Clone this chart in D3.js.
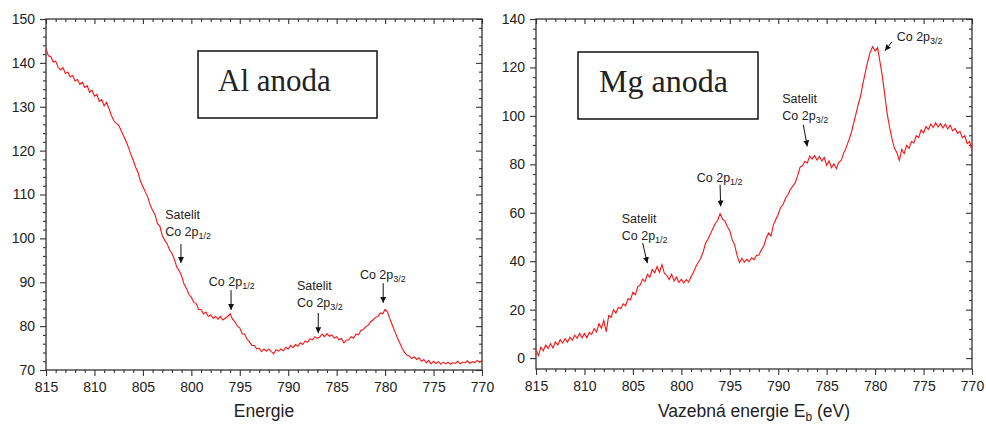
<!DOCTYPE html>
<html>
<head>
<meta charset="utf-8">
<script src="https://cdn.jsdelivr.net/npm/d3@7"></script>
<style>
  body { margin: 0; background: #fff; }
  svg { display: block; }
  text { font-family: Arial, "Liberation Sans", sans-serif; fill: #222; }
</style>
</head>
<body>
<svg id="chart" width="986" height="425"></svg>
<script>
// spectra sampled every 0.25 eV, from 815 eV down to 770 eV
const startEnergy = 815
const energyStep = 0.25

const alCounts = [
  143.2, 141.6, 141.4, 140.2, 140.4, 139, 138.4, 138.9, 137.6, 137.9, 136.8, 137.1,
  135.9, 136.2, 135.1, 135.6, 134.4, 134.8, 133.3, 133.8, 132.4, 132.8, 131.2, 131.6,
  130.2, 131, 129.6, 128, 126.8, 126.2, 125.8, 124.6, 123.4, 122.2, 120.8, 119.2,
  117.8, 116.2, 115, 113, 111.8, 110.6, 109.4, 107.6, 106.4, 105.4, 103.4, 102.8,
  100.6, 99.6, 98.8, 97.4, 96.6, 95.2, 93.4, 92.6, 91.4, 89.6, 88.6, 87.2,
  86.6, 85.4, 85.2, 83.8, 83.8, 82.8, 83.2, 82.2, 82.6, 81.8, 82.2, 81.6,
  82.2, 81.4, 81.8, 82.2, 82.8, 81.6, 81, 80, 79.6, 78.2, 78.2, 77,
  76.4, 75.6, 75.6, 74.8, 75, 74.2, 74.8, 74.3, 74.8, 74.2, 73.7, 74.6,
  74.3, 74.8, 74.4, 75.2, 74.8, 75.6, 75.1, 75.8, 75.4, 76.2, 75.8, 76.6,
  76.3, 77.1, 76.9, 77.6, 77.2, 77.5, 78.2, 77.6, 78.3, 77.7, 78, 77.3,
  77.6, 76.9, 77.2, 76.2, 76.8, 76.9, 77.6, 77.3, 78.2, 78, 79, 79.2,
  79.9, 80.2, 81, 81.4, 82, 82.2, 83, 82.8, 83.8, 83.2, 81.6, 80.2,
  78.8, 77.4, 76.2, 75, 74, 73.4, 73.2, 72.6, 73, 72.4, 72.8, 72,
  72.4, 71.6, 72.2, 71.4, 72, 71.5, 71.9, 71.3, 71.8, 71.4, 71.8, 71.3,
  71.7, 71.5, 72, 71.4, 71.8, 71.6, 72.1, 71.5, 71.9, 71.7, 72.2, 71.8,
  72.2
]

const mgCounts = [
  3.4, 1, 4.5, 3, 5.4, 4, 6, 4.2, 6.6, 5.4, 7.6, 6.2,
  8, 6.6, 8.6, 7.4, 9.4, 8.2, 10.2, 8.4, 10.2, 8.4, 10.6, 9.8,
  12.2, 10.8, 14.2, 12.4, 15.6, 10.8, 17.6, 16.8, 20, 18.6, 21, 20.4,
  22.4, 21.6, 24.6, 24, 27.2, 26.2, 29.4, 30.2, 32.6, 31.6, 34.6, 33.4,
  36.6, 35.2, 37.8, 35.4, 38.6, 35, 34.2, 32.4, 34.6, 31.8, 33.4, 31.2,
  32.6, 31, 32.4, 31.4, 33.6, 35.4, 37.8, 39.6, 41.2, 43.8, 47.4, 49.2,
  51.2, 53.4, 55.6, 56.8, 59.6, 57.4, 56.6, 54.2, 52.6, 48.8, 46.8, 42.4,
  39.4, 41.2, 39.6, 40.8, 39.8, 41.4, 40.6, 42.4, 42.6, 44.6, 46.2, 49.4,
  51.6, 50.4, 55, 57.2, 59.4, 62.2, 63.4, 66, 67.4, 69.6, 71, 72.4,
  75.2, 78.8, 79.4, 81.2, 80.6, 83.4, 82.2, 83.6, 81.8, 83.2, 81.4, 82.8,
  79.6, 81.4, 78.6, 80.2, 78.2, 80.8, 81.6, 84.6, 86.8, 89.6, 92.4, 96.4,
  100.4, 104.6, 108.2, 113.4, 118.2, 122.6, 126.4, 128.6, 126.8, 128.2, 122.4, 116.2,
  108.6, 100.8, 95.2, 90.4, 86.6, 84.8, 81.6, 86.2, 84.4, 87.8, 86.6, 89.4,
  88.8, 91.8, 91, 94.2, 93, 95.6, 94.4, 96.6, 95.2, 97.2, 95.4, 96.8,
  95, 96.6, 94.6, 96.2, 93.8, 94.8, 92.8, 93.6, 91, 91.8, 88.6, 89.4,
  85.6
]

const energyTicks = [815, 810, 805, 800, 795, 790, 785, 780, 775, 770]
const alTicks = [70, 80, 90, 100, 110, 120, 130, 140, 150]
const mgTicks = [0, 20, 40, 60, 80, 100, 120, 140]

// labels: text lines, subscript on last line, arrow tail/tip and text anchor in data units
const alNotes = [
  {lines: ['Satelit', 'Co 2p'], sub: '1/2', text: [802.7, 100.5], tail: [801.07, 98.7], tip: [801.07, 94.4]},
  {lines: ['Co 2p'], sub: '1/2', text: [798.2, 89.1], tail: [795.9, 88.2], tip: [795.9, 83.7]},
  {lines: ['Satelit', 'Co 2p'], sub: '3/2', text: [789.1, 84.4], tail: [786.9, 83], tip: [786.9, 78.4]},
  {lines: ['Co 2p'], sub: '3/2', text: [782.6, 90.7], tail: [780.2, 89.8], tip: [780.2, 85.3]}
]
const mgNotes = [
  {lines: ['Co 2p'], sub: '3/2', text: [777.77, 131.0], tail: [778.26, 130.6], tip: [778.98, 126.9]},
  {lines: ['Satelit', 'Co 2p'], sub: '3/2', text: [789.58, 98.4], tail: [787.41, 96.3], tip: [787.0, 87.4]},
  {lines: ['Co 2p'], sub: '1/2', text: [798.41, 72.9], tail: [796.0, 71.6], tip: [795.94, 62.6]},
  {lines: ['Satelit', 'Co 2p'], sub: '1/2', text: [806.15, 48.9], tail: [803.99, 47.5], tip: [803.51, 39.2]}
]

const svg = d3.select('#chart')

svg.append('defs').append('marker')
  .attr('id', 'head')
  .attr('viewBox', '0 0 10 10')
  .attr('refX', 10).attr('refY', 5)
  .attr('markerWidth', 6).attr('markerHeight', 6)
  .attr('markerUnits', 'userSpaceOnUse')
  .attr('orient', 'auto')
  .append('path').attr('d', 'M0,0L10,5L0,10Z').attr('fill', '#111')

function panel(opt) {
  const w = opt.right - opt.left
  const h = opt.bottom - opt.top
  const g = svg.append('g').attr('transform', `translate(${opt.left},${opt.top})`)

  const x = d3.scaleLinear().domain([815, 770]).range([0, w])
  const y = d3.scaleLinear().domain(opt.yDomain).range([h, 0])

  const minorX = d3.range(770, 816, 1).filter(v => !energyTicks.includes(v))
  const minorY = d3.range(opt.yDomain[0] < opt.ticks[0] ? opt.ticks[0] : opt.yDomain[0], opt.yDomain[1] + 0.01, opt.minorStep)
    .filter(v => !opt.ticks.includes(v))

  // outer ticks (left, bottom)
  g.append('g').attr('transform', `translate(0,${h})`)
    .call(d3.axisBottom(x).tickValues(minorX).tickSize(3).tickFormat(''))
  g.append('g').attr('transform', `translate(0,${h})`)
    .call(d3.axisBottom(x).tickValues(energyTicks).tickSize(6).tickPadding(6).tickFormat(d3.format('d')))
  g.append('g')
    .call(d3.axisLeft(y).tickValues(minorY).tickSize(3).tickFormat(''))
  g.append('g')
    .call(d3.axisLeft(y).tickValues(opt.ticks).tickSize(6).tickPadding(5).tickFormat(d3.format('d')))

  // inner ticks (top, right)
  g.append('g').call(d3.axisBottom(x).tickValues(minorX).tickSize(3).tickFormat(''))
  g.append('g').call(d3.axisBottom(x).tickValues(energyTicks).tickSize(5).tickFormat(''))
  g.append('g').attr('transform', `translate(${w},0)`)
    .call(d3.axisLeft(y).tickValues(minorY).tickSize(3).tickFormat(''))
  g.append('g').attr('transform', `translate(${w},0)`)
    .call(d3.axisLeft(y).tickValues(opt.ticks).tickSize(6).tickFormat(''))

  g.selectAll('.domain').remove()
  g.selectAll('.tick line').attr('stroke', '#333').attr('stroke-width', 1.1)
  g.selectAll('.tick text').style('font-size', '14px').attr('fill', '#222')

  g.append('rect').attr('width', w).attr('height', h)
    .attr('fill', 'none').attr('stroke', '#333').attr('stroke-width', 1.3)

  const clipId = 'clip' + opt.left
  g.append('clipPath').attr('id', clipId).append('rect').attr('width', w).attr('height', h)

  const line = d3.line()
    .x((d, i) => x(startEnergy - i * energyStep))
    .y(d => y(d))
  g.append('path').datum(opt.values)
    .attr('clip-path', `url(#${clipId})`)
    .attr('d', line)
    .attr('fill', 'none')
    .attr('stroke', '#ff1010')
    .attr('stroke-width', 1.1)

  // title box
  g.append('rect')
    .attr('x', opt.box[0] - opt.left).attr('y', opt.box[1] - opt.top)
    .attr('width', opt.box[2]).attr('height', opt.box[3])
    .attr('fill', '#fff').attr('stroke', '#111').attr('stroke-width', 1.5)
  g.append('text')
    .attr('x', opt.box[0] - opt.left + opt.titleDx).attr('y', opt.box[1] - opt.top + 40)
    .style('font-family', '"Liberation Serif", "Times New Roman", serif')
    .style('font-size', opt.titleSize + 'px')
    .attr('fill', '#111')
    .text(opt.title)

  // peak labels
  opt.notes.forEach(n => {
    g.append('line')
      .attr('x1', x(n.tail[0])).attr('y1', y(n.tail[1]))
      .attr('x2', x(n.tip[0])).attr('y2', y(n.tip[1]))
      .attr('stroke', '#111').attr('stroke-width', 1)
      .attr('marker-end', 'url(#head)')
    const tx = x(n.text[0])
    const ty = y(n.text[1])
    n.lines.forEach((s, k) => {
      const t = g.append('text')
        .attr('x', tx).attr('y', ty - (n.lines.length - 1 - k) * 17)
        .style('font-size', '12.5px')
        .text(s)
      if (k === n.lines.length - 1) {
        t.append('tspan').attr('dy', 3).style('font-size', '9px').text(n.sub)
      }
    })
  })

  // axis title
  const title = g.append('text')
    .attr('x', w / 2).attr('y', 417 - opt.top)
    .attr('text-anchor', 'middle')
    .style('font-size', '17.5px')
  title.append('tspan').text(opt.xTitle[0])
  if (opt.xTitle.length > 1) {
    title.append('tspan').attr('dy', 4).style('font-size', '12px').text(opt.xTitle[1])
    title.append('tspan').attr('dy', -4).text(opt.xTitle[2])
  }
}

panel({
  left: 46, right: 482, top: 19, bottom: 370,
  yDomain: [70, 150], ticks: alTicks, minorStep: 2,
  values: alCounts, notes: alNotes,
  box: [198, 51, 179, 67], title: 'Al anoda', titleDx: 20, titleSize: 31,
  xTitle: ['Energie']
})

panel({
  left: 536, right: 972, top: 19, bottom: 369,
  yDomain: [-4.5, 140], ticks: mgTicks, minorStep: 4,
  values: mgCounts, notes: mgNotes,
  box: [578, 52, 180, 67], title: 'Mg anoda', titleDx: 21, titleSize: 32,
  xTitle: ['Vazebná energie E', 'b', ' (eV)']
})
</script>
</body>
</html>
